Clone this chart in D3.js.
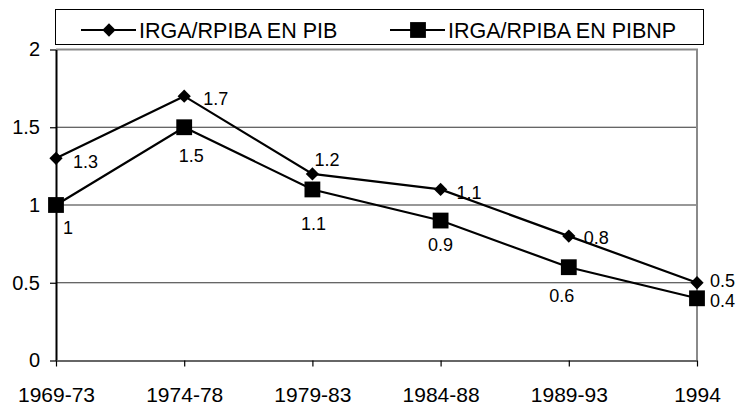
<!DOCTYPE html>
<html>
<head>
<meta charset="utf-8">
<script src="https://cdn.jsdelivr.net/npm/d3@7"></script>
<style>
  body { margin: 0; background: #fff; }
  text { font-family: "Liberation Sans", Arial, sans-serif; fill: #000; }
</style>
</head>
<body>
<div id="chart"></div>
<script>
const periods = ['1969-73', '1974-78', '1979-83', '1984-88', '1989-93', '1994'];
const pibValues = [1.3, 1.7, 1.2, 1.1, 0.8, 0.5];
const pibnpValues = [1, 1.5, 1.1, 0.9, 0.6, 0.4];
const seriesNames = ['IRGA/RPIBA EN PIB', 'IRGA/RPIBA EN PIBNP'];
const yTicks = [0, 0.5, 1, 1.5, 2];

// label offsets (dx, dy, anchor) for each point
const pibLabelPos = [[17, 3, 'start'], [19, 3, 'start'], [2, -14, 'start'], [16, 3, 'start'], [15, 2, 'start'], [13, -2, 'start']];
const pibnpLabelPos = [[7, 23, 'start'], [7, 28, 'middle'], [1, 34, 'middle'], [0, 24, 'middle'], [-7, 28, 'middle'], [13, 2, 'start']];

const width = 736;
const height = 406;
const margin = { top: 49.5, right: 39, bottom: 45.5, left: 56 };
const font = '"Liberation Sans", Arial, sans-serif';

const svg = d3.select('#chart')
  .append('svg')
  .attr('width', width)
  .attr('height', height);

const x = d3.scalePoint()
  .domain(periods)
  .range([margin.left, width - margin.right]);

const y = d3.scaleLinear()
  .domain([0, 2])
  .range([height - margin.bottom, margin.top]);

// gridlines
svg.append('g')
  .selectAll('line')
  .data(yTicks.filter(d => d > 0 && d < 2))
  .join('line')
  .attr('x1', margin.left)
  .attr('x2', width - margin.right)
  .attr('y1', d => y(d))
  .attr('y2', d => y(d))
  .attr('stroke', '#333')
  .attr('stroke-width', 1.2);

// plot border (top / right)
svg.append('path')
  .attr('d', `M${margin.left},${y(2)}H${width - margin.right}V${y(0)}`)
  .attr('fill', 'none')
  .attr('stroke', '#8a8a8a')
  .attr('stroke-width', 2);

// axes
const yAxis = svg.append('g')
  .attr('transform', `translate(${margin.left},0)`)
  .call(d3.axisLeft(y).tickValues(yTicks).tickFormat(d3.format('')).tickSize(6).tickSizeOuter(0).tickPadding(10));
yAxis.select('.domain').attr('stroke', '#000').attr('stroke-width', 2);
yAxis.selectAll('.tick line').attr('stroke', '#000').attr('stroke-width', 1.2);
yAxis.selectAll('text').attr('font-size', 20).attr('font-family', font);

const xAxis = svg.append('g')
  .attr('transform', `translate(0,${y(0)})`)
  .call(d3.axisBottom(x).tickSize(6).tickPadding(21).tickSizeOuter(0));
xAxis.select('.domain').attr('stroke', '#666').attr('stroke-width', 2);
xAxis.selectAll('.tick line').attr('stroke', '#000').attr('stroke-width', 1.2);
xAxis.selectAll('text').attr('font-size', 21).attr('font-family', font);

const line = d3.line()
  .x((d, i) => x(periods[i]))
  .y(d => y(d));

const diamond = d3.symbol().type(d3.symbolDiamond2).size(112);
const square = d3.symbol().type(d3.symbolSquare).size(250);

function drawSeries(values, symbol, labelPos) {
  const g = svg.append('g');
  g.append('path')
    .datum(values)
    .attr('d', line)
    .attr('fill', 'none')
    .attr('stroke', '#000')
    .attr('stroke-width', 2.2);
  g.selectAll('path.m')
    .data(values)
    .join('path')
    .attr('class', 'm')
    .attr('transform', (d, i) => `translate(${x(periods[i])},${y(d)})`)
    .attr('d', symbol)
    .attr('fill', '#000');
  g.selectAll('text')
    .data(values)
    .join('text')
    .attr('x', (d, i) => x(periods[i]) + labelPos[i][0])
    .attr('y', (d, i) => y(d) + labelPos[i][1])
    .attr('dy', '0.35em')
    .attr('text-anchor', (d, i) => labelPos[i][2])
    .attr('font-size', 18)
    .text(d => d);
}

drawSeries(pibValues, diamond, pibLabelPos);
drawSeries(pibnpValues, square, pibnpLabelPos);

// legend
const legend = svg.append('g');
legend.append('rect')
  .attr('x', 55.5).attr('y', 9.5)
  .attr('width', 648).attr('height', 35)
  .attr('fill', '#fff')
  .attr('stroke', '#000')
  .attr('stroke-width', 1);

const legendItems = [
  { name: seriesNames[0], symbol: diamond, x0: 81 },
  { name: seriesNames[1], symbol: square, x0: 390 }
];
legendItems.forEach(item => {
  const cy = 30;
  legend.append('line')
    .attr('x1', item.x0).attr('x2', item.x0 + 55)
    .attr('y1', cy).attr('y2', cy)
    .attr('stroke', '#000').attr('stroke-width', 2.2);
  legend.append('path')
    .attr('transform', `translate(${item.x0 + 28},${cy})`)
    .attr('d', item.symbol)
    .attr('fill', '#000');
  legend.append('text')
    .attr('x', item.x0 + 58)
    .attr('y', cy)
    .attr('dy', '0.35em')
    .attr('font-size', 21.5)
    .text(item.name);
});
</script>
</body>
</html>
